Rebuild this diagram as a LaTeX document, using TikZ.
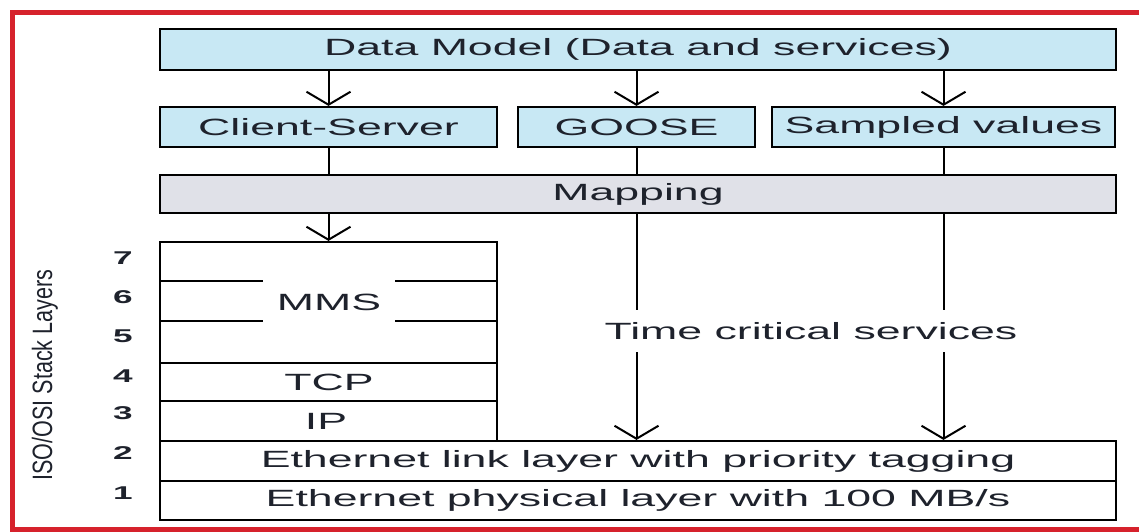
\documentclass[tikz,border=0pt]{standalone}
\usepackage{fontspec}
\setmainfont{Liberation Sans}[FakeStretch=1.9]
\newfontfamily\sidefont{Liberation Sans}[FakeStretch=0.77]
\usetikzlibrary{arrows.meta}
\definecolor{boxblue}{RGB}{200,232,244}
\definecolor{mapgray}{RGB}{224,225,232}
\definecolor{framered}{RGB}{214,34,44}
\definecolor{ink}{RGB}{30,34,44}
\begin{document}
\begin{tikzpicture}[x=1pt,y=-1pt,
  box/.style={draw=black, line width=2.2pt, rectangle, inner sep=0pt, anchor=center,
              text=ink, font=\fontsize{23.5}{28}\selectfont},
  lbl/.style={text=ink, font=\fontsize{23.5}{28}\selectfont, inner sep=0pt},
  num/.style={text=ink, font=\bfseries\fontsize{18.5}{22}\selectfont, inner sep=0pt},
  conn/.style={draw=black, line width=2pt},
  arr/.style={conn, -{Straight Barb[length=13pt,width=44pt]}},
  rule/.style={draw=black, line width=1.8pt}]
\useasboundingbox (0,0) rectangle (1139,532);
\fill[white] (0,0) rectangle (1139,532);

% outer frame
\draw[framered, line width=5pt] (1139,12.5) -- (12.5,12.5) -- (12.5,529.5) -- (1139,529.5);

% top layer: data model and services
\node[box, fill=boxblue, minimum width=956pt, minimum height=41pt] (dm) at (638,49.5) {Data Model (Data and services)};
\node[box, fill=boxblue, minimum width=337pt, minimum height=40pt] (cs) at (328.5,127) {Client-Server};
\node[box, fill=boxblue, minimum width=237pt, minimum height=40pt] (goose) at (636.5,127) {GOOSE};
\node[box, fill=boxblue, minimum width=343pt, minimum height=40pt] (sv) at (943.5,127) {Sampled values};
\node[box, fill=mapgray, minimum width=956pt, minimum height=38pt] (map) at (638,194) {Mapping};

% protocol stack
\node[box, minimum width=337pt, minimum height=199pt] (stack) at (328.5,341.5) {};
\node[box, minimum width=956pt, minimum height=40pt] (link) at (638,461) {Ethernet link layer with priority tagging};
\node[box, minimum width=956pt, minimum height=39pt] (phys) at (638,500.5) {Ethernet physical layer with 100 MB/s};

% layer separators inside the stack
\draw[rule] (160,281) -- (263,281);
\draw[rule] (395,281) -- (497,281);
\draw[rule] (160,321) -- (263,321);
\draw[rule] (395,321) -- (497,321);
\draw[rule] (160,363) -- (497,363);
\draw[rule] (160,401) -- (497,401);
\node[lbl] (mms) at (329,302) {MMS};
\node[lbl] (tcp) at (329,382) {TCP};
\node[lbl] (ip) at (326,421) {IP};

% connectors
\draw[arr] (dm.south -| cs.center) -- (cs.north);
\draw[arr] (dm.south -| goose.center) -- (goose.north);
\draw[arr] (dm.south -| sv.center) -- (sv.north);
\draw[conn] (cs.south) -- (map.north -| cs.center);
\draw[conn] (goose.south) -- (map.north -| goose.center);
\draw[conn] (sv.south) -- (map.north -| sv.center);
\draw[arr] (map.south -| cs.center) -- (stack.north);
\draw[arr] (map.south -| goose.center) -- (link.north -| goose.center);
\draw[arr] (map.south -| sv.center) -- (link.north -| sv.center);
\node[lbl, fill=white, inner xsep=6pt, minimum height=42pt] (tc) at (811,331) {Time critical services};

% layer numbers
\node[num] (n7) at (123,258) {7};
\node[num] (n6) at (123,297) {6};
\node[num] (n5) at (123,336) {5};
\node[num] (n4) at (123,376) {4};
\node[num] (n3) at (123,413) {3};
\node[num] (n2) at (123,453) {2};
\node[num] (n1) at (123,493) {1};

% side caption
\node[text=ink, font=\sidefont\fontsize{28}{30}\selectfont, inner sep=0pt, rotate=90, anchor=base] (side) at (52,375) {ISO/OSI Stack Layers};
\end{tikzpicture}
\end{document}
